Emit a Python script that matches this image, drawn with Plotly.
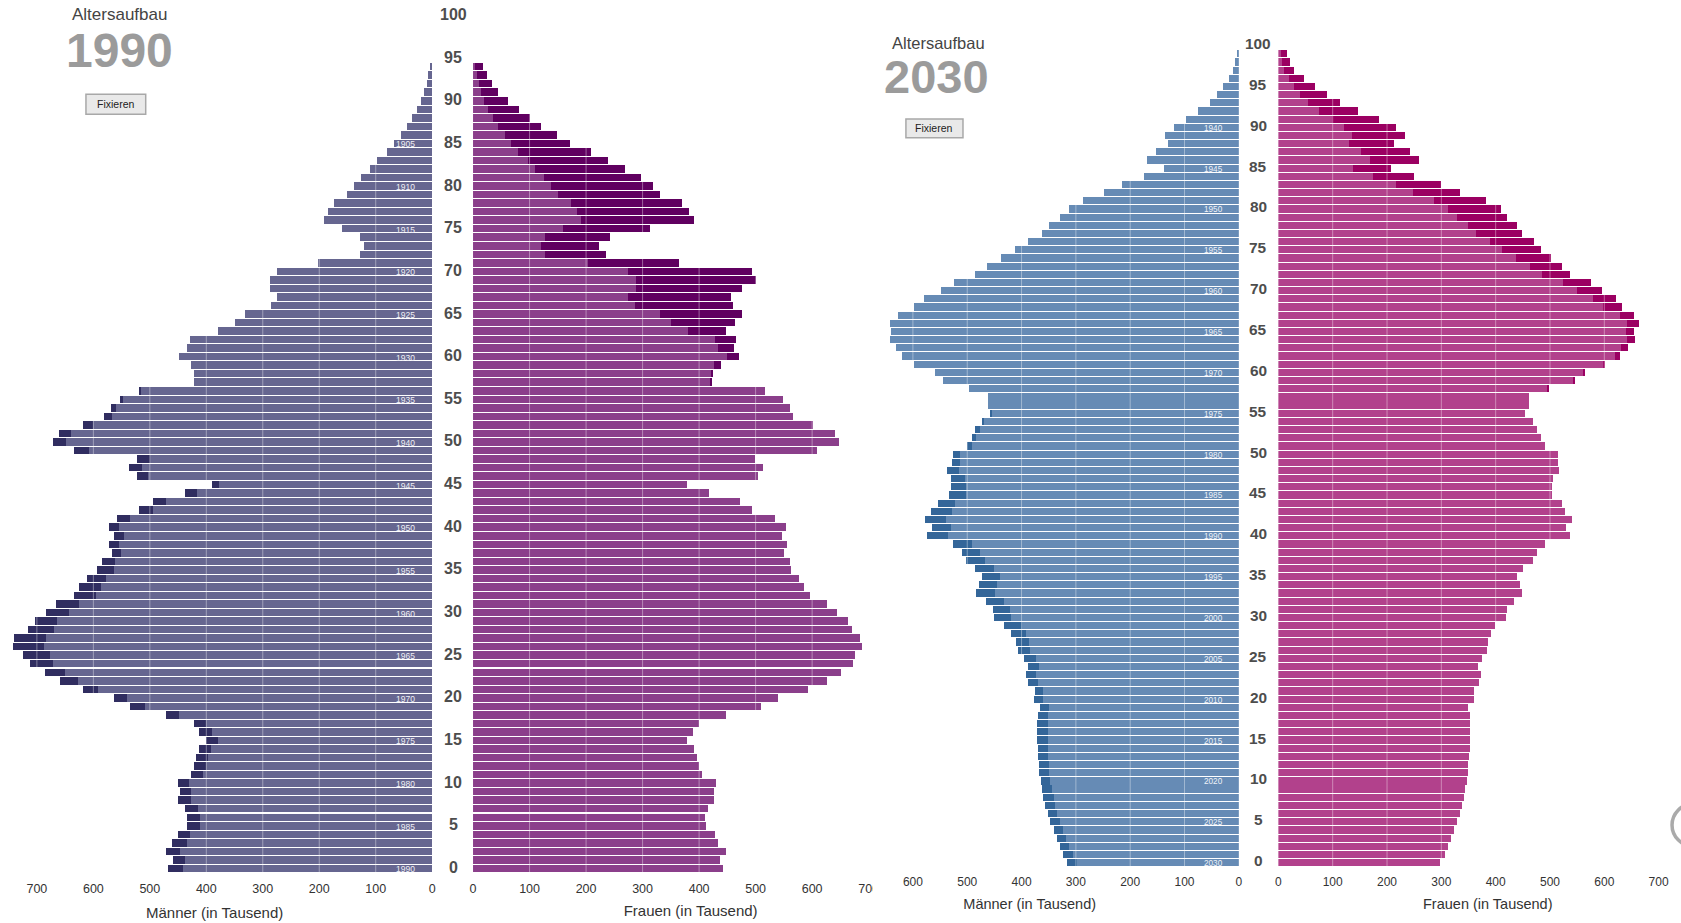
import plotly.graph_objects as go

W, H = 1681, 923

# ---------------- data (thousands) ----------------
ages_1990 = list(range(0, 95))
men_1990 = [468, 459, 472, 460, 451, 435, 434, 437, 450, 447,
            450, 427, 422, 419, 413, 400, 413, 422, 472, 535,
            564, 619, 659, 686, 713, 724, 742, 740, 715, 703,
            684, 666, 635, 625, 612, 594, 584, 567, 572, 563,
            572, 558, 520, 494, 437, 390, 523, 537, 523, 634,
            672, 660, 619, 581, 569, 553, 519, 421, 421, 427,
            449, 434, 428, 380, 350, 331, 286, 275, 288, 288,
            275, 203, 128, 121, 127, 159, 191, 184, 174, 151,
            138, 126, 110, 97, 80, 68, 56, 44, 36, 27,
            19, 14, 10, 7, 4]
women_1990 = [442, 437, 447, 434, 428, 412, 411, 415, 427, 427,
              430, 405, 400, 397, 391, 379, 390, 400, 448, 509,
              540, 592, 627, 651, 672, 676, 688, 684, 670, 664,
              644, 626, 596, 586, 577, 563, 561, 551, 555, 546,
              554, 535, 494, 472, 417, 378, 504, 513, 499, 608,
              648, 640, 601, 567, 560, 548, 516, 423, 425, 438,
              471, 461, 466, 448, 464, 476, 460, 457, 476, 500,
              494, 365, 235, 222, 242, 313, 391, 382, 369, 331,
              318, 298, 268, 238, 208, 171, 148, 120, 101, 82,
              62, 45, 33, 24, 17]

ages_2030 = list(range(0, 100))
men_2030 = [317, 323, 329, 335, 341, 347, 352, 357, 361, 363,
            365, 367, 368, 369, 370, 371, 371, 371, 370, 366,
            377, 375, 388, 392, 389, 396, 407, 410, 420, 432,
            450, 453, 465, 483, 479, 473, 485, 502, 509, 527,
            574, 565, 578, 566, 554, 534, 529, 529, 537, 528,
            526, 500, 492, 486, 473, 459, 461, 462, 497, 544,
            560, 598, 620, 631, 642, 640, 642, 628, 598, 579,
            549, 524, 485, 464, 438, 412, 389, 363, 349, 329,
            313, 287, 248, 216, 174, 138, 169, 153, 130, 136,
            120, 98, 75, 54, 40, 29, 19, 11, 7, 4]
women_2030 = [298, 306, 312, 318, 324, 329, 334, 338, 341, 344,
              347, 349, 349, 351, 352, 352, 352, 352, 352, 349,
              361, 360, 370, 373, 368, 374, 384, 386, 391, 399,
              419, 421, 433, 448, 445, 440, 450, 468, 477, 491,
              536, 530, 540, 528, 522, 503, 503, 505, 516, 514,
              514, 491, 483, 477, 469, 454, 461, 462, 498, 545,
              565, 602, 628, 643, 657, 654, 664, 654, 632, 621,
              595, 575, 537, 522, 502, 483, 470, 448, 439, 420,
              409, 382, 334, 300, 250, 207, 259, 242, 213, 233,
              217, 185, 146, 113, 89, 67, 48, 28, 21, 15]

age_ticks = [0, 5, 10, 15, 20, 25, 30, 35, 40, 45, 50,
             55, 60, 65, 70, 75, 80, 85, 90, 95, 100]
x_ticks_1990 = [0, 100, 200, 300, 400, 500, 600, 700]
x_ticks_2030_men = [0, 100, 200, 300, 400, 500, 600]
x_ticks_2030_women = [0, 100, 200, 300, 400, 500, 600, 700]
birth_years_1990 = [1905, 1910, 1915, 1920, 1925, 1930, 1935, 1940, 1945,
                    1950, 1955, 1960, 1965, 1970, 1975, 1980, 1985, 1990]
birth_years_2030 = [1940, 1945, 1950, 1955, 1960, 1965, 1970, 1975, 1980,
                    1985, 1990, 1995, 2000, 2005, 2010, 2015, 2020, 2025, 2030]

# ---------------- styling ----------------
C1990 = dict(men="#666690", men_x="#302d60", women="#8b3f8b", women_x="#600060")
C2030 = dict(men="#668bb5", men_x="#346699", women="#b2418c", women_x="#9b0062")
FONT = "Arial, Liberation Sans, sans-serif"


def px(x):
    return x / W


def py(y):
    return 1 - y / H


fig = go.Figure()


def add_pyramid(ages, men, women, xm, xw, ya, col):
    base = [min(m, w) for m, w in zip(men, women)]
    men_extra = [m - b for m, b in zip(men, base)]
    women_extra = [w - b for w, b in zip(women, base)]
    common = dict(orientation="h", yaxis=ya, showlegend=False,
                  marker_line_width=0)
    fig.add_bar(y=ages, x=base, xaxis=xm, marker_color=col["men"],
                name="Männer", **common)
    fig.add_bar(y=ages, x=men_extra, xaxis=xm, marker_color=col["men_x"],
                name="Männerüberschuss", **common)
    fig.add_bar(y=ages, x=base, xaxis=xw, marker_color=col["women"],
                name="Frauen", **common)
    fig.add_bar(y=ages, x=women_extra, xaxis=xw, marker_color=col["women_x"],
                name="Frauenüberschuss", **common)


add_pyramid(ages_1990, men_1990, women_1990, "x", "x2", "y", C1990)
add_pyramid(ages_2030, men_2030, women_2030, "x3", "x4", "y2", C2030)

# plot geometry (pixels)
Y1990 = (872.7, 11.2)
Y2030 = (866.7, 41.5)


def xaxis(domain_px, rng, ticks, anchor, title, fs, tfs, standoff):
    ax = dict(domain=[px(domain_px[0]), px(domain_px[1])], range=rng,
              anchor=anchor, tickvals=ticks, ticks="outside", ticklen=4,
              tickcolor="rgba(0,0,0,0)", showgrid=False, zeroline=False,
              showline=False, fixedrange=True,
              tickfont=dict(family=FONT, size=tfs, color="#333333"))
    if title:
        ax["title"] = dict(text=title, standoff=standoff,
                           font=dict(family=FONT, size=fs, color="#333333"))
    return ax


fig.update_layout(
    width=W, height=H, autosize=False,
    margin=dict(l=0, r=0, t=0, b=0, pad=0),
    paper_bgcolor="white", plot_bgcolor="rgba(0,0,0,0)",
    barmode="stack", bargap=0.12,
    xaxis=xaxis((0, 431), [760, 0], x_ticks_1990, "y", None, 15, 12.5, 10),
    xaxis2=xaxis((472, 909), [0, 770], x_ticks_1990, "y",
                 "Frauen (in Tausend)", 15, 12.5, 10),
    xaxis3=xaxis((821, 1241), [770, 0], x_ticks_2030_men, "y2",
                 "Männer (in Tausend)", 14.5, 12, 10),
    xaxis4=xaxis((1280.7, 1681), [0, 733.8], x_ticks_2030_women, "y2", None, 14.5, 12, 10),
    yaxis=dict(domain=[py(Y1990[0]), py(Y1990[1])], range=[-0.5, 100.5],
               anchor="x", showticklabels=False, showgrid=False,
               zeroline=False, showline=False, fixedrange=True),
    yaxis2=dict(domain=[py(Y2030[0]), py(Y2030[1])], range=[-0.5, 100.5],
                anchor="x3", showticklabels=False, showgrid=False,
                zeroline=False, showline=False, fixedrange=True),
)

shapes = []
annotations = []

# axis titles whose centre lies outside the visible axis domain
annotations += [
    dict(x=px(212.5), y=py(912), xref="paper", yref="paper", text="Männer (in Tausend)",
         showarrow=False, xanchor="center", yanchor="middle",
         font=dict(family=FONT, size=15, color="#333333")),
    dict(x=px(1491), y=py(904), xref="paper", yref="paper", text="Frauen (in Tausend)",
         showarrow=False, xanchor="center", yanchor="middle",
         font=dict(family=FONT, size=14.5, color="#333333")),
]

# light grid lines drawn over the bars
GRID = "rgba(255,255,255,0.38)"
for xa, ticks, ydom in (("x", x_ticks_1990, Y1990), ("x2", x_ticks_1990, Y1990),
                        ("x3", x_ticks_2030_men, Y2030), ("x4", x_ticks_2030_women, Y2030)):
    for t in ticks[1:]:
        shapes.append(dict(type="line", xref=xa, yref="paper", x0=t, x1=t,
                           y0=py(ydom[0]), y1=py(ydom[1]), layer="above",
                           line=dict(color=GRID, width=1)))

# age labels in the middle column
for a in age_ticks:
    annotations.append(dict(x=px(452), y=a, xref="paper", yref="y", text=str(a),
                            showarrow=False, xanchor="center", yanchor="middle", yshift=1,
                            font=dict(family=FONT, size=16, color="#4d4d4d", weight="bold")))
    annotations.append(dict(x=px(1260.7), y=a, xref="paper", yref="y2", text=str(a),
                            showarrow=False, xanchor="center", yanchor="middle", yshift=2,
                            font=dict(family=FONT, size=15.4, color="#4d4d4d", weight="bold")))

# birth-year labels inside the men's bars
for b in birth_years_1990:
    annotations.append(dict(x=px(404), y=1990 - b, xref="paper", yref="y", text=str(b),
                            showarrow=False, xanchor="center", yanchor="middle", yshift=-1,
                            font=dict(family=FONT, size=8.5, color="#eeeef5")))
for b in birth_years_2030:
    annotations.append(dict(x=px(1215.7), y=2030 - b, xref="paper", yref="y2", text=str(b),
                            showarrow=False, xanchor="center", yanchor="middle", yshift=-1,
                            font=dict(family=FONT, size=8.2, color="#eef2f8")))

# headings
annotations += [
    dict(x=px(116.7), y=py(15), xref="paper", yref="paper", text="Altersaufbau",
         showarrow=False, xanchor="center", yanchor="middle",
         font=dict(family=FONT, size=17, color="#444444")),
    dict(x=px(116.7), y=py(50), xref="paper", yref="paper", text="1990",
         showarrow=False, xanchor="center", yanchor="middle",
         font=dict(family=FONT, size=48, color="#9b9b9b", weight="bold")),
    dict(x=px(939), y=py(42.7), xref="paper", yref="paper", text="Altersaufbau",
         showarrow=False, xanchor="center", yanchor="middle",
         font=dict(family=FONT, size=16.5, color="#444444")),
    dict(x=px(937.5), y=py(76.5), xref="paper", yref="paper", text="2030",
         showarrow=False, xanchor="center", yanchor="middle",
         font=dict(family=FONT, size=47, color="#9b9b9b", weight="bold")),
]

# "Fixieren" buttons
for (x0, y0, x1, y1) in ((83.3, 94.3, 143.3, 114.3), (906.7, 119, 964, 137.7)):
    shapes.append(dict(type="rect", xref="paper", yref="paper",
                       x0=px(x0), x1=px(x1), y0=py(y1), y1=py(y0), layer="above",
                       fillcolor="#e9e9e9", line=dict(color="#a8a8a8", width=1.5)))
    annotations.append(dict(x=px((x0 + x1) / 2), y=py((y0 + y1) / 2), xref="paper", yref="paper",
                            text="Fixieren", showarrow=False, xanchor="center", yanchor="middle",
                            font=dict(family=FONT, size=10.5, color="#222222")))

# clip of the last axis label of the 1990 chart (covered by the 2030 chart)
shapes.append(dict(type="rect", xref="paper", yref="paper", x0=px(873.5), x1=px(886),
                   y0=py(897), y1=py(876), layer="above", fillcolor="white",
                   line=dict(width=0)))

# partial gray circle at right edge
shapes.append(dict(type="circle", xref="paper", yref="paper", x0=px(1676), x1=px(1718),
                   y0=py(846), y1=py(804), layer="above",
                   line=dict(color="#aaaaaa", width=3.5)))

fig.update_layout(shapes=shapes, annotations=annotations)

fig.write_html("out.html",
               config={"displayModeBar": False},
               post_script="document.body.style.margin='0';document.body.style.overflow='hidden';")
